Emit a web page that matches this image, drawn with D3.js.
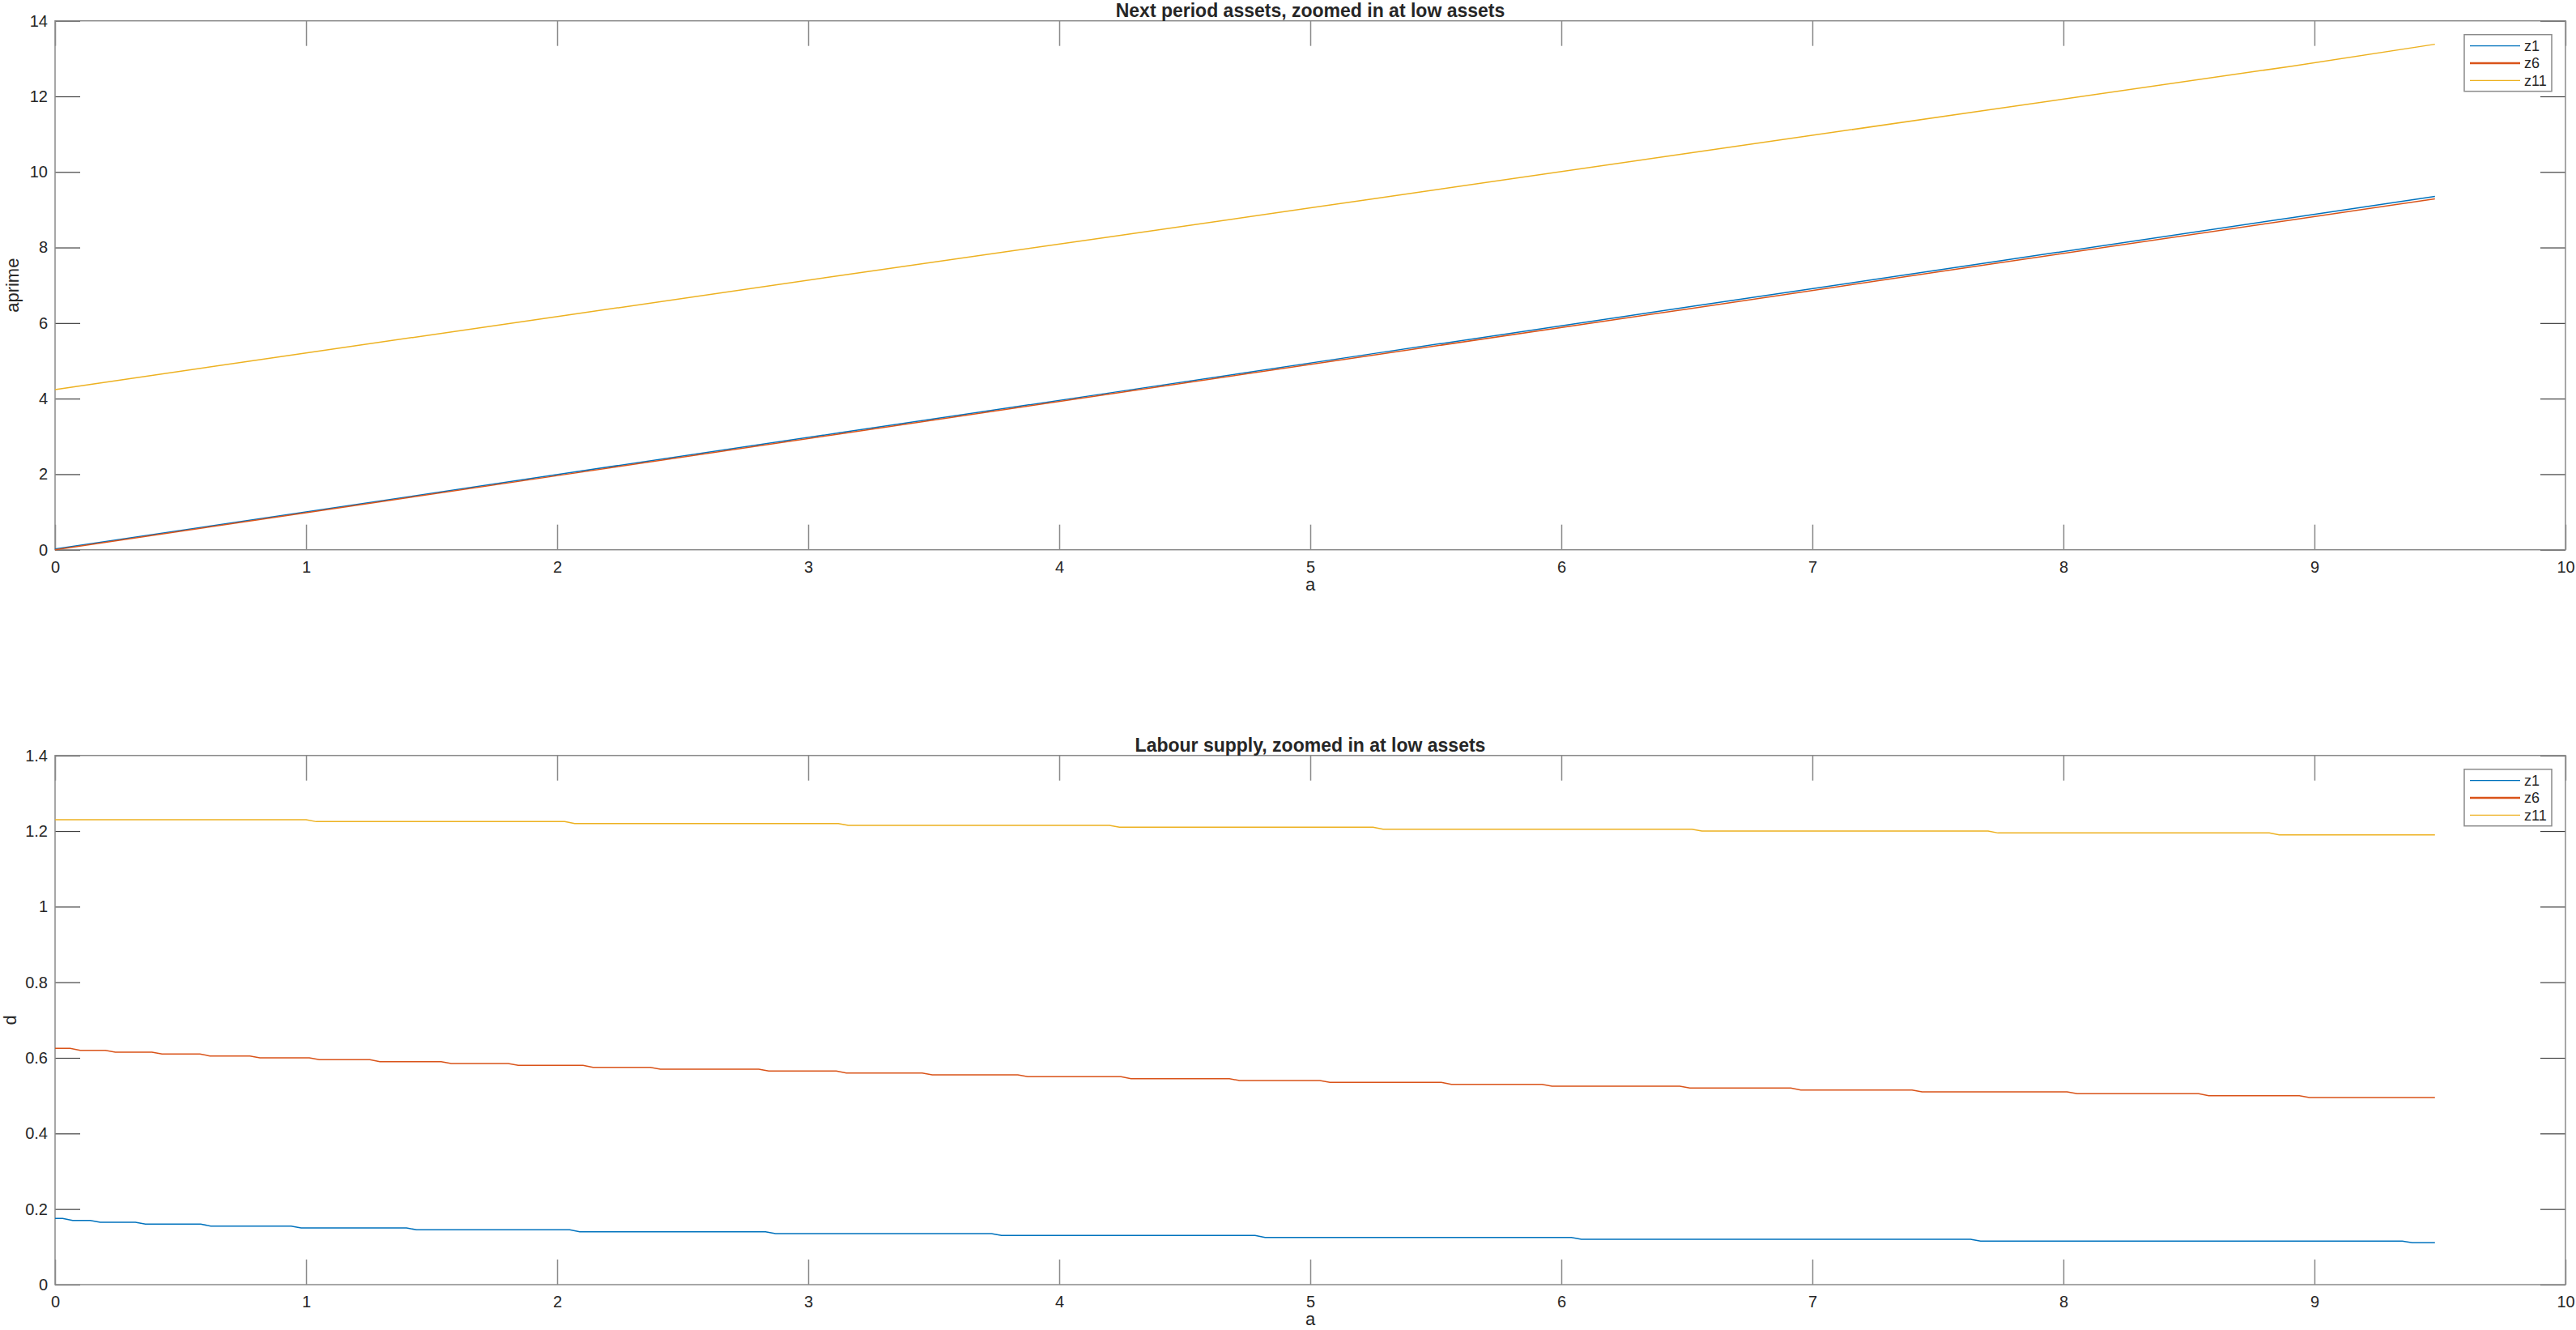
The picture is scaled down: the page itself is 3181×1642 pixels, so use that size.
<!DOCTYPE html>
<html>
<head>
<meta charset="utf-8">
<script src="https://cdn.jsdelivr.net/npm/d3@7"></script>
<style>
  body { margin: 0; background: #fff; }
  text { font-family: "Liberation Sans", Arial, sans-serif; fill: #262626; }
  .tick text { font-size: 20px; }
  .title { font-size: 23px; font-weight: bold; }
  .label { font-size: 22px; }
  .legend-text { font-size: 18px; }
</style>
</head>
<body>
<div id="graph"></div>
<script>
const width = 3181;
const height = 1642;

// legend names and line colours
const seriesNames = ["z1", "z6", "z11"];
const seriesColors = ["#0072BD", "#D95319", "#EDB120"];

// tick values
const aTicks = [0, 1, 2, 3, 4, 5, 6, 7, 8, 9, 10];
const aprimeTicks = [0, 2, 4, 6, 8, 10, 12, 14];
const labourTicks = [0, 0.2, 0.4, 0.6, 0.8, 1, 1.2, 1.4];

// last grid point on the asset axis
const aMax = 9.48;

// next period assets (top panel)
const aprimeGrid = [0, 1.0, 2.03, 3.12, 4.2, 5.25, 6.52, 7.7, 8.91, 9.48];
const aprimeZ1 = [0.02, 1.0, 2.02, 3.09, 4.15, 5.19, 6.44, 7.6, 8.79, 9.35];
const aprimeZ6 = [0, 0.98, 1.99, 3.06, 4.12, 5.15, 6.39, 7.55, 8.73, 9.29];
const aprimeZ11 = [4.24, 5.21, 6.2, 7.25, 8.28, 9.29, 10.51, 11.64, 12.8, 13.38];

// labour supply (bottom panel): asset values where each step starts, and step levels
const labourZ1Breaks = [0.03, 0.14, 0.32, 0.58, 0.94, 1.4, 2.05, 2.83, 3.73, 4.78, 6.04, 7.63, 9.35];
const labourZ1Levels = [0.175, 0.17, 0.165, 0.16, 0.155, 0.15, 0.145, 0.14, 0.135, 0.13, 0.125, 0.12, 0.115, 0.111];
const labourZ6Breaks = [0.06, 0.2, 0.386, 0.577, 0.776, 1.013, 1.254, 1.538, 1.805, 2.103, 2.371, 2.803, 3.112,
                        3.454, 3.835, 4.246, 4.678, 5.038, 5.522, 5.923, 6.472, 6.914, 7.397, 8.015, 8.539, 8.94];
const labourZ6Levels = [0.625, 0.62, 0.615, 0.61, 0.605, 0.6, 0.595, 0.59, 0.585, 0.58, 0.575, 0.57, 0.565, 0.56,
                        0.555, 0.55, 0.545, 0.54, 0.535, 0.53, 0.525, 0.52, 0.515, 0.51, 0.505, 0.5, 0.495];
const labourZ11Breaks = [1.0, 2.03, 3.12, 4.2, 5.25, 6.52, 7.7, 8.82];
const labourZ11Levels = [1.23, 1.225, 1.22, 1.215, 1.21, 1.205, 1.2, 1.195, 1.19];

const left = 68;
const right = 3168;
const tickLen = 31;
const ramp = 0.04;

const svg = d3.select("#graph")
              .append("svg")
              .attr("width", width)
              .attr("height", height);

const x = d3.scaleLinear().domain([0, 10]).range([left, right]);

const stepPoints = (breaks, levels) => {
  const pts = [[0, levels[0]]];
  breaks.forEach((b, i) => {
    pts.push([b, levels[i]]);
    pts.push([Math.min(b + ramp, aMax), levels[i + 1]]);
  });
  pts.push([aMax, levels[levels.length - 1]]);
  return pts;
};

const panel = (opts) => {
  const y = d3.scaleLinear().domain(opts.yDomain).range([opts.bottom, opts.top]);
  const g = svg.append("g");

  const fmt = d3.format("~g");

  g.append("g")
   .attr("transform", `translate(0, ${opts.bottom})`)
   .call(d3.axisBottom(x).tickValues(aTicks).tickFormat(fmt).tickSize(-tickLen).tickPadding(14))
   .call(s => s.select(".domain").remove())
   .call(s => s.selectAll("line").attr("stroke", "#8a8a8a").attr("stroke-width", 1.5));

  g.append("g")
   .attr("transform", `translate(0, ${opts.top})`)
   .call(d3.axisTop(x).tickValues(aTicks).tickFormat("").tickSize(-tickLen))
   .call(s => s.select(".domain").remove())
   .call(s => s.selectAll("line").attr("stroke", "#8a8a8a").attr("stroke-width", 1.5));

  g.append("g")
   .attr("transform", `translate(${left}, 0)`)
   .call(d3.axisLeft(y).tickValues(opts.yTicks).tickFormat(fmt).tickSize(-tickLen).tickPadding(9))
   .call(s => s.select(".domain").remove())
   .call(s => s.selectAll("line").attr("stroke", "#404040").attr("stroke-width", 1.2));

  g.append("g")
   .attr("transform", `translate(${right}, 0)`)
   .call(d3.axisRight(y).tickValues(opts.yTicks).tickFormat("").tickSize(-tickLen))
   .call(s => s.select(".domain").remove())
   .call(s => s.selectAll("line").attr("stroke", "#404040").attr("stroke-width", 1.2));

  g.selectAll(".tick text").attr("fill", "#262626").style("font-family", "\"Liberation Sans\", Arial, sans-serif");

  g.append("rect")
   .attr("x", left)
   .attr("y", opts.top)
   .attr("width", right - left)
   .attr("height", opts.bottom - opts.top)
   .attr("fill", "none")
   .attr("stroke", "#8a8a8a")
   .attr("stroke-width", 1.5);

  const line = d3.line().x(d => x(d[0])).y(d => y(d[1]));

  g.selectAll("path.series")
   .data(opts.series)
   .enter()
   .append("path")
   .attr("class", "series")
   .attr("d", d => line(d))
   .attr("fill", "none")
   .attr("stroke", (d, i) => seriesColors[i])
   .attr("stroke-width", 1.5);

  g.append("text")
   .attr("class", "title")
   .attr("x", (left + right) / 2)
   .attr("y", opts.top - 5)
   .attr("text-anchor", "middle")
   .text(opts.title);

  g.append("text")
   .attr("class", "label")
   .attr("x", (left + right) / 2)
   .attr("y", opts.bottom + 50)
   .attr("text-anchor", "middle")
   .text("a");

  g.append("text")
   .attr("class", "label")
   .attr("transform", `translate(${opts.ylabelX}, ${(opts.top + opts.bottom) / 2}) rotate(-90)`)
   .attr("text-anchor", "middle")
   .text(opts.ylabel);

  // legend
  const lx = 3043, ly = opts.top + 17;
  g.append("rect")
   .attr("x", lx)
   .attr("y", ly)
   .attr("width", 108)
   .attr("height", 70)
   .attr("fill", "#fff")
   .attr("stroke", "#8a8a8a")
   .attr("stroke-width", 1.5);

  const item = g.selectAll("g.legend-item")
                .data(seriesNames)
                .enter()
                .append("g")
                .attr("class", "legend-item")
                .attr("transform", (d, i) => `translate(${lx}, ${ly + 14 + i * 21.3})`);

  item.append("line")
      .attr("x1", 7)
      .attr("x2", 69)
      .attr("stroke", (d, i) => seriesColors[i])
      .attr("stroke-width", (d, i) => i === 1 ? 2.5 : 1.3);

  item.append("text")
      .attr("class", "legend-text")
      .attr("x", 74)
      .attr("dy", "0.36em")
      .text(d => d);
};

panel({
  top: 25.7,
  bottom: 678.7,
  yDomain: [0, 14],
  yTicks: aprimeTicks,
  title: "Next period assets, zoomed in at low assets",
  ylabel: "aprime",
  ylabelX: 23,
  series: [
    aprimeGrid.map((a, i) => [a, aprimeZ1[i]]),
    aprimeGrid.map((a, i) => [a, aprimeZ6[i]]),
    aprimeGrid.map((a, i) => [a, aprimeZ11[i]])
  ]
});

panel({
  top: 932.7,
  bottom: 1586,
  yDomain: [0, 1.4],
  yTicks: labourTicks,
  title: "Labour supply, zoomed in at low assets",
  ylabel: "d",
  ylabelX: 20,
  series: [
    stepPoints(labourZ1Breaks, labourZ1Levels),
    stepPoints(labourZ6Breaks, labourZ6Levels),
    stepPoints(labourZ11Breaks, labourZ11Levels)
  ]
});
</script>
</body>
</html>
